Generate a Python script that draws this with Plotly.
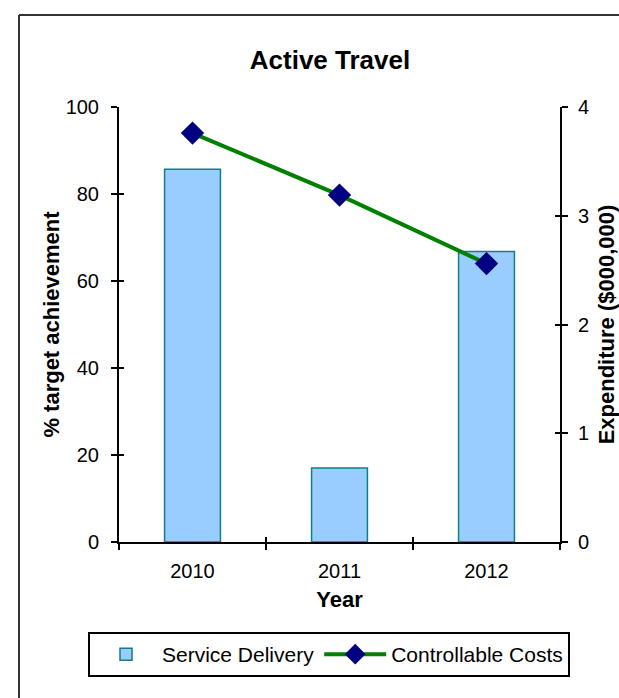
import plotly.graph_objects as go

years = ["2010", "2011", "2012"]
service_delivery = [85.7, 17.0, 66.8]
controllable_costs = [3.76, 3.19, 2.56]
y_left_ticks = [0, 20, 40, 60, 80, 100]
y_right_ticks = [0, 1, 2, 3, 4]

FONT = "Arial, Liberation Sans, sans-serif"

# plot area geometry (pixels) used for paper-coordinate conversion of decorations
L, R, T, B = 119, 560, 107, 542
W, H = 619, 698
def px(x):
    return (x - L) / (R - L)
def py(y):
    return (B - y) / (B - T)

fig = go.Figure()
fig.add_trace(go.Bar(
    x=years, y=service_delivery, name="Service Delivery",
    marker=dict(color="#99CCFF", line=dict(color="#108080", width=1.5)),
    width=0.38, xaxis="x", yaxis="y"))
fig.add_trace(go.Scatter(
    x=years, y=controllable_costs, name="Controllable Costs", mode="lines+markers",
    line=dict(color="#008000", width=4),
    marker=dict(symbol="diamond", size=18, color="#000080"),
    xaxis="x", yaxis="y2"))
# invisible helper traces for the inner halves of the crossing ticks
fig.add_trace(go.Scatter(x=years, y=[None]*3, showlegend=False, hoverinfo="skip", xaxis="x", yaxis="y3"))
fig.add_trace(go.Scatter(x=years, y=[None]*3, showlegend=False, hoverinfo="skip", xaxis="x", yaxis="y4"))
fig.add_trace(go.Scatter(x=years, y=[None]*3, showlegend=False, hoverinfo="skip", xaxis="x2", yaxis="y"))

tickfont = dict(family=FONT, size=20, color="#000000")
titlefont = dict(family=FONT, size=22, color="#000000", weight="bold")

fig.update_layout(
    width=W, height=H,
    margin=dict(l=L, r=W - R, t=T, b=H - B, autoexpand=False),
    paper_bgcolor="white", plot_bgcolor="white",
    font=dict(family=FONT, color="#000000"),
    title=dict(text="<b>Active Travel</b>", x=330 / W, xref="container", xanchor="center",
               y=1 - 60 / H, yref="container", yanchor="middle",
               font=dict(family=FONT, size=26, color="#000000")),
    bargap=0.62,
    xaxis=dict(type="category", categoryorder="array", categoryarray=years, range=[-0.5, 2.5],
               showline=True, linecolor="#000000", linewidth=2, ticks="outside", ticklen=6,
               tickwidth=2, tickcolor="#000000", tickson="boundaries", tickfont=tickfont,
               ticklabelstandoff=10, showgrid=False, zeroline=False,
               title=dict(text="Year", font=titlefont, standoff=11)),
    xaxis2=dict(type="category", categoryorder="array", categoryarray=years, range=[-0.5, 2.5],
                overlaying="x", anchor="y", ticks="inside", ticklen=5, tickwidth=2,
                tickcolor="#000000", tickson="boundaries", showticklabels=False,
                showline=False, showgrid=False, zeroline=False),
    yaxis=dict(range=[0, 100], tickvals=y_left_ticks, showline=True, linecolor="#000000",
               linewidth=2, ticks="outside", ticklen=6, tickwidth=2, tickcolor="#000000",
               tickfont=tickfont, ticklabelstandoff=8, showgrid=False, zeroline=False,
               title=dict(text="% target achievement", font=titlefont, standoff=0)),
    yaxis2=dict(range=[0, 4], tickvals=y_right_ticks, overlaying="y", side="right", anchor="x",
                showline=True, linecolor="#000000", linewidth=2, ticks="outside", ticklen=6,
                tickwidth=2, tickcolor="#000000", tickfont=tickfont, ticklabelstandoff=6,
                showgrid=False, zeroline=False,
                title=dict(text="Expenditure ($000,000)", font=titlefont, standoff=13)),
    yaxis3=dict(range=[0, 100], tickvals=y_left_ticks, overlaying="y", side="left", anchor="x",
                ticks="inside", ticklen=5, tickwidth=2, tickcolor="#000000",
                showticklabels=False, showline=False, showgrid=False, zeroline=False),
    yaxis4=dict(range=[0, 4], tickvals=y_right_ticks, overlaying="y", side="right", anchor="x",
                ticks="inside", ticklen=5, tickwidth=2, tickcolor="#000000",
                showticklabels=False, showline=False, showgrid=False, zeroline=False),
    legend=dict(orientation="h", xref="paper", x=px(88), xanchor="left",
                yref="paper", y=py(632), yanchor="top",
                bordercolor="#000000", borderwidth=2, bgcolor="white",
                font=dict(family=FONT, size=21, color="#000000"),
                itemwidth=62, tracegroupgap=0),
    showlegend=True,
    shapes=[
        dict(type="line", xref="paper", yref="paper", x0=px(19), x1=px(640), y0=py(15), y1=py(15),
             line=dict(color="#333333", width=2)),
        dict(type="line", xref="paper", yref="paper", x0=px(19), x1=px(19), y0=py(15), y1=py(720),
             line=dict(color="#333333", width=2)),
    ],
)

fig.write_html("out.html")
